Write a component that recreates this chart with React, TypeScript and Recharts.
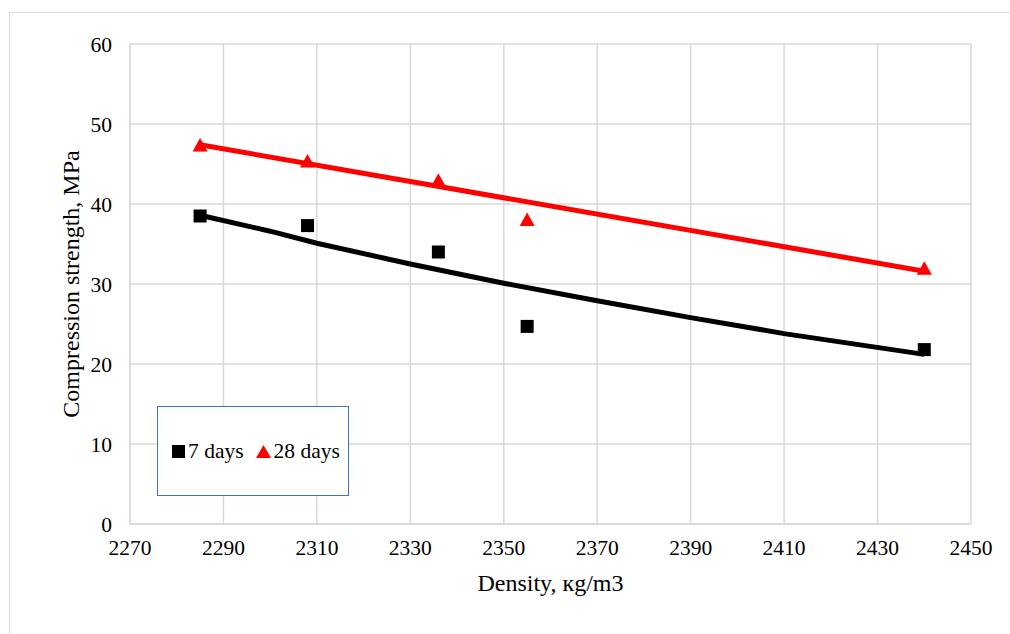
import React from 'react';
import { ScatterChart, Scatter, XAxis, YAxis, CartesianGrid, Label } from 'recharts';

// measured points
const density = [2285, 2308, 2336, 2355, 2440];
const days7 = [38.5, 37.3, 34.0, 24.7, 21.8];
const days28 = [47.3, 45.3, 42.9, 38.0, 31.9];

// trendlines
const trend7X = [2285, 2300, 2310, 2330, 2350, 2370, 2390, 2410, 2440];
const trend7Y = [38.6, 36.6, 35.1, 32.5, 30.1, 27.9, 25.8, 23.8, 21.2];
const trend28X = [2285, 2440];
const trend28Y = [47.4, 31.6];

const xTicks = [2270, 2290, 2310, 2330, 2350, 2370, 2390, 2410, 2430, 2450];
const yTicks = [0, 10, 20, 30, 40, 50, 60];

const FONT = '"Liberation Serif", "Times New Roman", serif';
const GRID = '#d9d9d9';

const pts7 = density.map((x, i) => ({ x, y: days7[i] }));
const pts28 = density.map((x, i) => ({ x, y: days28[i] }));
const line7 = trend7X.map((x, i) => ({ x, y: trend7Y[i] }));
const line28 = trend28X.map((x, i) => ({ x, y: trend28Y[i] }));

const Square = (props: any) => {
  const { cx, cy } = props;
  return <rect x={cx - 6.5} y={cy - 6.5} width={13} height={13} fill="#000" />;
};

const Triangle = (props: any) => {
  const { cx, cy } = props;
  return <polygon points={`${cx},${cy - 7.5} ${cx + 7.5},${cy + 6} ${cx - 7.5},${cy + 6}`} fill="#ff0000" />;
};

const NoDot = () => <g />;

const LegendBox = () => (
  <div
    style={{
      position: 'absolute',
      left: 157,
      top: 406,
      width: 192,
      height: 90,
      border: '1.5px solid #4472c4',
      background: '#fff',
      boxSizing: 'border-box',
      display: 'flex',
      alignItems: 'center',
      paddingLeft: 14,
      fontFamily: FONT,
      fontSize: 21.5,
      color: '#000',
    }}
  >
    <span style={{ display: 'inline-block', width: 13, height: 13, background: '#000', marginRight: 3 }} />
    <span>7 days</span>
    <svg width={15} height={13} style={{ marginLeft: 12, marginRight: 3 }}>
      <polygon points="7.5,0 15,13 0,13" fill="#ff0000" />
    </svg>
    <span>28 days</span>
  </div>
);

export default function App() {
  return (
    <div style={{ position: 'absolute', left: 0, top: 0, width: 1010, height: 634, overflow: 'hidden', background: '#fff' }}>
      <div
        style={{
          position: 'absolute',
          left: 9,
          top: 12,
          width: 1100,
          height: 800,
          border: `1.5px solid ${GRID}`,
          boxSizing: 'border-box',
        }}
      />
      <div style={{ position: 'absolute', left: 0, top: 0 }}>
        <ScatterChart width={1010} height={634} margin={{ top: 44, right: 39, bottom: 0, left: 60 }}>
          <CartesianGrid stroke={GRID} strokeWidth={1.5} />
          <XAxis
            type="number"
            dataKey="x"
            domain={[2270, 2450]}
            ticks={xTicks}
            interval={0}
            tickLine={false}
            axisLine={{ stroke: GRID, strokeWidth: 1.5 }}
            tick={{ fontFamily: FONT, fontSize: 21.5, fill: '#000' }}
            tickMargin={10}
            height={110}
          >
            <Label
              value="Density, кg/m3"
              position="insideTop"
              offset={50}
              style={{ fontFamily: FONT, fontSize: 24, fill: '#000' }}
            />
          </XAxis>
          <YAxis
            type="number"
            dataKey="y"
            domain={[0, 60]}
            ticks={yTicks}
            interval={0}
            tickLine={false}
            axisLine={{ stroke: GRID, strokeWidth: 1.5 }}
            tick={{ fontFamily: FONT, fontSize: 21.5, fill: '#000' }}
            tickMargin={12}
            width={70}
          >
            <Label
              value="Compression strength, MPa"
              angle={-90}
              position="insideLeft"
              offset={10}
              style={{ fontFamily: FONT, fontSize: 24, fill: '#000', textAnchor: 'middle' }}
            />
          </YAxis>
          <Scatter name="7 days" data={pts7} shape={Square} isAnimationActive={false} />
          <Scatter name="28 days" data={pts28} shape={Triangle} isAnimationActive={false} />
          <Scatter data={line7} shape={NoDot} line={{ stroke: '#000', strokeWidth: 5 }} isAnimationActive={false} />
          <Scatter data={line28} shape={NoDot} line={{ stroke: '#ff0000', strokeWidth: 5 }} isAnimationActive={false} />
        </ScatterChart>
      </div>
      <LegendBox />
    </div>
  );
}
